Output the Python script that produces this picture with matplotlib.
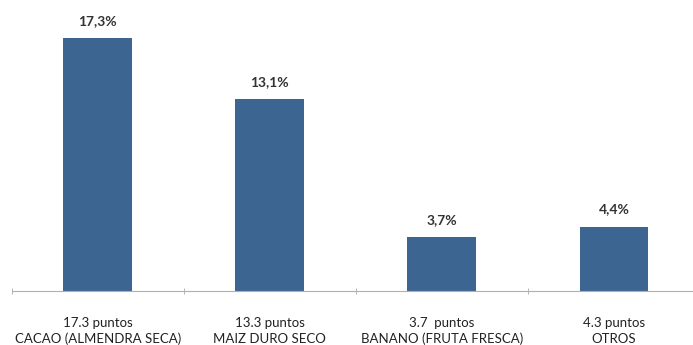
import numpy as np
import matplotlib.pyplot as plt

# values
categorias = ['CACAO (ALMENDRA SECA)', 'MAIZ DURO SECO', 'BANANO (FRUTA FRESCA)', 'OTROS']
puntos = ['17.3 puntos', '13.3 puntos', '3.7  puntos', '4.3 puntos']
valores = [17.3, 13.1, 3.7, 4.4]
etiquetas = ['17,3%', '13,1%', '3,7%', '4,4%']

plt.rcParams['font.family'] = ['Lato', 'DejaVu Sans']

fig = plt.figure(figsize=(6.93, 3.45), dpi=100)
ax = fig.add_axes([0.017, 0.157, 0.993, 0.826])

x = np.arange(len(categorias))
bars = ax.bar(x, valores, width=0.4, color='#3d6592')

for b, t in zip(bars, etiquetas):
    ax.annotate(t, (b.get_x() + b.get_width() / 2, b.get_height()),
                xytext=(0, 8), textcoords='offset points', ha='center', va='bottom',
                fontsize=10, fontweight='bold', color='#333333')

ax.set_xlim(-0.5, 3.5)
ax.set_ylim(0, 19.5)
ax.set_xticks(x)
ax.set_xticklabels([p + '\n' + c for p, c in zip(puntos, categorias)],
                   fontsize=9.5, color='#222222', linespacing=1.35)
ax.tick_params(axis='x', which='major', length=0, pad=19)
ax.set_xticks(np.arange(-0.5, 4, 1), minor=True)
ax.tick_params(axis='x', which='minor', length=5, direction='inout', color='#aaaaaa')
ax.set_yticks([])
for s in ['top', 'right', 'left']:
    ax.spines[s].set_visible(False)
ax.spines['bottom'].set_color('#b0b0b0')

fig.savefig('out.png', dpi=100)
